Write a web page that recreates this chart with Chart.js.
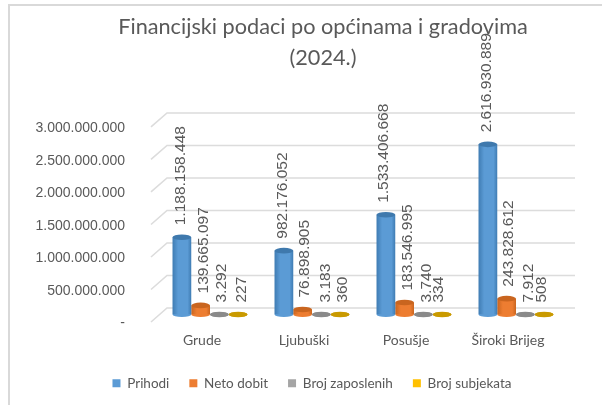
<!DOCTYPE html>
<html>
<head>
<meta charset="utf-8">
<style>
html,body{margin:0;padding:0;background:#fff;overflow:hidden}
#wrap{position:relative;width:602px;height:405px;overflow:hidden}
#frame{position:absolute;left:8px;top:4px;width:700px;height:500px;border:2px solid #d9d9d9;box-sizing:border-box}
canvas{position:absolute;left:0;top:0}
</style>
<script src="https://cdn.jsdelivr.net/npm/chart.js@4"></script>
</head>
<body>
<div id="wrap"><div id="frame"></div><canvas id="c" width="602" height="405"></canvas></div>
<script>
const titleLines = ["Financijski podaci po općinama i gradovima", "(2024.)"];
const categories = ["Grude", "Ljubuški", "Posušje", "Široki Brijeg"];
const prihodi = [1188158448, 982176052, 1533406668, 2616930889];
const netoDobit = [139665097, 76898905, 183546995, 243828612];
const brojZaposlenih = [3292, 3183, 3740, 7912];
const brojSubjekata = [227, 360, 334, 508];
const seriesNames = ["Prihodi", "Neto dobit", "Broj zaposlenih", "Broj subjekata"];
const seriesValues = [prihodi, netoDobit, brojZaposlenih, brojSubjekata];

const legendColors = ["#5b9bd5", "#ed7d31", "#a5a5a5", "#ffc000"];
const sideColors = ["#3f7cb3", "#c9651f", "#7f7f7f", "#c49400"];
const capColors = ["#3f79ad", "#c9651f", "#8a8a8a", "#c99a00"];
const labelNudge = [[-1,3,2,4],[-1,2,4,3],[-2,3,3,-3],[-1,2,3,-2]];

const dots = v => String(v).replace(/\B(?=(\d{3})+(?!\d))/g, ".");
const GREY = "#595959";
const DEPTH_UP = 6.5, DEPTH_DOWN = 7.5, DEPTH_X = 8;

const cylinder = {
  id: "cylinder",
  beforeDatasetsDraw(chart) {
    const y = chart.scales.y, a = chart.chartArea, c = chart.ctx;
    c.save();
    c.strokeStyle = "#dcdcdc";
    c.lineWidth = 1.6;
    y.ticks.forEach(t => {
      const p = y.getPixelForValue(t.value);
      c.beginPath();
      c.moveTo(a.left - DEPTH_X, p + DEPTH_DOWN);
      c.lineTo(a.left + DEPTH_X, p - DEPTH_UP);
      c.lineTo(a.right + DEPTH_X, p - DEPTH_UP);
      c.stroke();
    });
    c.restore();
  },
  beforeDatasetDraw(chart, args) {
    const c = chart.ctx, i = args.index;
    c.save();
    chart.getDatasetMeta(i).data.forEach(el => {
      c.fillStyle = i < 2 ? legendColors[i] : capColors[i];
      c.beginPath();
      c.ellipse(el.x, el.base, el.width / 2, 2.6, 0, 0, Math.PI * 2);
      c.fill();
    });
    c.restore();
  },
  afterDatasetDraw(chart, args) {
    const c = chart.ctx, i = args.index;
    c.save();
    chart.getDatasetMeta(i).data.forEach(el => {
      c.fillStyle = capColors[i];
      c.beginPath();
      c.ellipse(el.x, el.y, el.width / 2, 2.8, 0, 0, Math.PI * 2);
      c.fill();
    });
    c.restore();
  },
  afterDatasetsDraw(chart) {
    const c = chart.ctx;
    c.save();
    c.fillStyle = GREY;
    c.font = '15.5px "Liberation Sans"';
    c.textAlign = "left";
    c.textBaseline = "middle";
    seriesValues.forEach((vals, d) => {
      chart.getDatasetMeta(d).data.forEach((el, k) => {
        c.save();
        c.translate(el.x + labelNudge[k][d], el.y - 12);
        c.rotate(-Math.PI / 2);
        c.fillText(dots(vals[k]), 0, 0);
        c.restore();
      });
    });
    c.restore();
  },
  afterLayout(chart) {
    chart.titleBlock.left += 11;
    chart.titleBlock.right += 11;
    chart.scales.y.left = 0;
  }
};

const gradientFor = d => ctx => {
  const chart = ctx.chart, xs = chart.scales.x;
  if (!xs || ctx.dataIndex === undefined) return legendColors[d];
  const w = xs.width / categories.length * 0.735 / 4;
  const cx = xs.getPixelForValue(ctx.dataIndex) + (d - 1.5) * w;
  const g = chart.ctx.createLinearGradient(cx - w / 2, 0, cx + w / 2, 0);
  g.addColorStop(0, sideColors[d]);
  g.addColorStop(0.3, legendColors[d]);
  g.addColorStop(0.8, legendColors[d]);
  g.addColorStop(1, sideColors[d]);
  return g;
};

new Chart(document.getElementById("c"), {
  type: "bar",
  plugins: [cylinder],
  data: {
    labels: categories,
    datasets: seriesNames.map((name, d) => ({
      label: name,
      data: seriesValues[d],
      backgroundColor: gradientFor(d),
      borderWidth: 0
    }))
  },
  options: {
    responsive: false,
    animation: false,
    layout: { padding: { left: 57, right: 35, top: 0, bottom: 5 } },
    datasets: { bar: { barPercentage: 1, categoryPercentage: 0.735 } },
    plugins: {
      title: {
        display: true,
        text: titleLines,
        color: GREY,
        font: { family: "Lato", size: 21.7, weight: "normal", lineHeight: 1.43 },
        padding: { top: 11.5, bottom: 45.9 }
      },
      legend: {
        position: "bottom",
        labels: {
          boxWidth: 8, boxHeight: 8, padding: 20, color: GREY,
          font: { family: "Lato", size: 13.5 },
          generateLabels: () => seriesNames.map((text, i) => ({
            text, fillStyle: legendColors[i], strokeStyle: "transparent",
            lineWidth: 0, hidden: false, datasetIndex: i, fontColor: GREY
          }))
        }
      },
      tooltip: { enabled: false }
    },
    scales: {
      x: {
        grid: { display: false, drawTicks: false },
        border: { display: false },
        afterFit(s) { s.height = 42; },
        ticks: {
          color: GREY, padding: 18, maxRotation: 0, labelOffset: -8,
          font: { family: "Lato", size: 14 }
        }
      },
      y: {
        min: 0, max: 3000000000,
        grid: { display: false, drawTicks: false },
        border: { display: false },
        afterFit(s) { s.width = 102; },
        ticks: {
          stepSize: 500000000, color: GREY, padding: 34, labelOffset: 9,
          font: { family: "Liberation Sans", size: 14 },
          callback: v => v === 0 ? "-" : dots(v)
        }
      }
    }
  }
});
</script>
</body>
</html>
